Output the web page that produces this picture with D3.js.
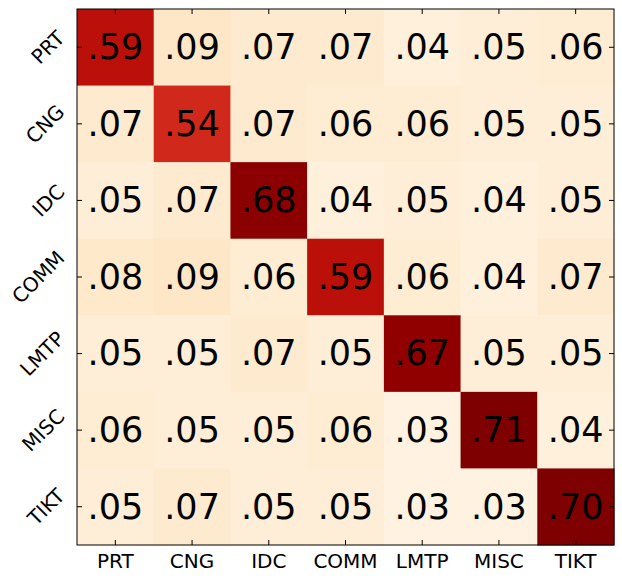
<!DOCTYPE html>
<html>
<head>
<meta charset="utf-8">
<script src="https://cdn.jsdelivr.net/npm/d3@7"></script>
<style>
  body { margin: 0; background: #fff; }
  text { font-family: "DejaVu Sans", sans-serif; }
</style>
</head>
<body>
<script>
(function (d3) {
    'use strict';

    // categorieen en waarden
    var labels = ['PRT', 'CNG', 'IDC', 'COMM', 'LMTP', 'MISC', 'TIKT'];
    var rows = [
        [.59, .09, .07, .07, .04, .05, .06],
        [.07, .54, .07, .06, .06, .05, .05],
        [.05, .07, .68, .04, .05, .04, .05],
        [.08, .09, .06, .59, .06, .04, .07],
        [.05, .05, .07, .05, .67, .05, .05],
        [.06, .05, .05, .06, .03, .71, .04],
        [.05, .07, .05, .05, .03, .03, .70]
    ];

    var width = 622, height = 581;
    var margin = { top: 9, right: 8, bottom: 36, left: 77 };
    var innerWidth = width - margin.left - margin.right;
    var innerHeight = height - margin.top - margin.bottom;

    var svg = d3.select('body').append('svg')
        .attr('width', width)
        .attr('height', height);

    var xScale = d3.scaleBand().domain(labels).range([0, innerWidth]);
    var yScale = d3.scaleBand().domain(labels).range([0, innerHeight]);
    var color = d3.scaleSequential(d3.interpolateOrRd).domain([0, 0.7]).clamp(true);

    var cells = [];
    rows.forEach(function (r, i) {
        r.forEach(function (v, j) {
            cells.push({ row: labels[i], col: labels[j], value: v });
        });
    });

    var g = svg.append('g')
        .attr('transform', 'translate(' + margin.left + ',' + margin.top + ')');

    g.selectAll('rect.cell').data(cells)
        .enter().append('rect')
        .attr('class', 'cell')
        .attr('x', function (d) { return xScale(d.col); })
        .attr('y', function (d) { return yScale(d.row); })
        .attr('width', xScale.bandwidth() + 0.5)
        .attr('height', yScale.bandwidth() + 0.5)
        .style('fill', function (d) { return color(d.value); });

    g.selectAll('text.val').data(cells)
        .enter().append('text')
        .attr('class', 'val')
        .attr('x', function (d) { return xScale(d.col) + xScale.bandwidth() / 2; })
        .attr('y', function (d) { return yScale(d.row) + yScale.bandwidth() / 2; })
        .attr('text-anchor', 'middle')
        .attr('dy', '0.34em')
        .style('font-size', '35px')
        .style('fill', '#000')
        .text(function (d) { return d3.format('.2f')(d.value).replace(/^0/, ''); });

    // kader
    g.append('rect')
        .attr('width', innerWidth)
        .attr('height', innerHeight)
        .style('fill', 'none')
        .style('stroke', '#000')
        .style('stroke-width', 1);

    // ticks aan alle kanten, naar binnen
    var tl = 5;
    labels.forEach(function (l) {
        var cx = xScale(l) + xScale.bandwidth() / 2;
        var cy = yScale(l) + yScale.bandwidth() / 2;
        g.append('line').attr('x1', cx).attr('x2', cx).attr('y1', innerHeight).attr('y2', innerHeight - tl).style('stroke', '#000');
        g.append('line').attr('x1', cx).attr('x2', cx).attr('y1', 0).attr('y2', tl).style('stroke', '#000');
        g.append('line').attr('y1', cy).attr('y2', cy).attr('x1', 0).attr('x2', tl).style('stroke', '#000');
        g.append('line').attr('y1', cy).attr('y2', cy).attr('x1', innerWidth).attr('x2', innerWidth - tl).style('stroke', '#000');
    });

    // x labels
    g.selectAll('text.xl').data(labels)
        .enter().append('text')
        .attr('class', 'xl')
        .attr('x', function (d) { return xScale(d) + xScale.bandwidth() / 2; })
        .attr('y', innerHeight + 23)
        .attr('text-anchor', 'middle')
        .style('font-size', '20px')
        .text(function (d) { return d; });

    // y labels, 45 graden gedraaid, rechts uitgelijnd
    var fs = 20;
    g.selectAll('text.yl').data(labels)
        .enter().append('text')
        .attr('class', 'yl')
        .style('font-size', fs + 'px')
        .attr('text-anchor', 'middle')
        .attr('dy', '0.36em')
        .text(function (d) { return d; })
        .each(function (d) {
            var len = this.getComputedTextLength();
            var boxW = (len + fs * 0.75) * Math.SQRT1_2;
            var cx = -11 - boxW / 2;
            var cy = yScale(d) + yScale.bandwidth() / 2;
            d3.select(this)
                .attr('x', 0).attr('y', 0)
                .attr('transform', 'translate(' + cx + ',' + cy + ') rotate(-45)');
        });

})(d3);
</script>
</body>
</html>
